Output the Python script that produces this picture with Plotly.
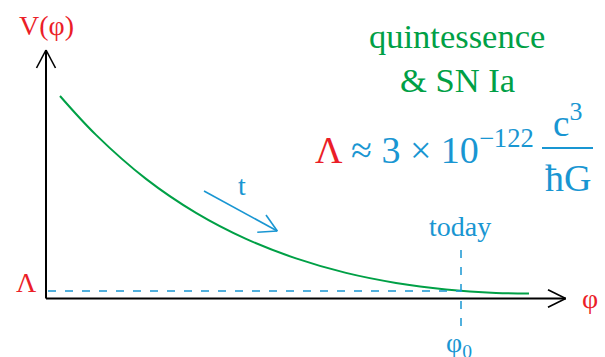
import plotly.graph_objects as go

# Potential V(phi) of the quintessence field (arbitrary units)
phi = [0.14, 0.5, 1.0, 1.5, 2.0, 2.5, 3.0, 3.5, 4.0, 4.5, 4.83]
V = [2.025, 1.636, 1.196, 0.856, 0.596, 0.401, 0.256, 0.156, 0.091, 0.056, 0.049]

lambda_level = 0.075   # present-day vacuum energy
phi_today = 4.15       # field value today

GREEN = "rgb(0,160,70)"
BLUE = "rgb(25,150,210)"
RED = "rgb(235,30,40)"
FONT = "Liberation Serif"

fig = go.Figure()

fig.add_trace(go.Scatter(
    x=phi, y=V, mode="lines", line=dict(color=GREEN, width=2, shape="spline", smoothing=1.0),
    hoverinfo="skip", showlegend=False,
))

shapes = []
black = dict(color="black", width=2)
thin_black = dict(color="black", width=1.6)
# axes with open arrow heads
shapes.append(dict(type="line", x0=0, y0=0, x1=0, y1=2.485, line=black))
shapes.append(dict(type="line", x0=-0.095, y0=2.305, x1=0, y1=2.485, line=thin_black))
shapes.append(dict(type="line", x0=0.095, y0=2.305, x1=0, y1=2.485, line=thin_black))
shapes.append(dict(type="line", x0=0, y0=0, x1=5.197, y1=0, line=black))
shapes.append(dict(type="line", x0=5.02, y0=0.088, x1=5.197, y1=0, line=thin_black))
shapes.append(dict(type="line", x0=5.02, y0=-0.088, x1=5.197, y1=0, line=thin_black))

# Lambda level and today's field value
dash = dict(color=BLUE, width=1.5, dash="8px,9px")
shapes.append(dict(type="line", x0=0.02, y0=lambda_level, x1=phi_today, y1=lambda_level, line=dash))
shapes.append(dict(type="line", x0=phi_today, y0=0.485, x1=phi_today, y1=-0.285, line=dash))

# time arrow
blue_line = dict(color=BLUE, width=1.6)
shapes.append(dict(type="line", x0=1.58, y0=1.075, x1=2.313, y1=0.675, line=blue_line))
shapes.append(dict(type="line", x0=2.20, y0=0.835, x1=2.313, y1=0.675, line=blue_line))
shapes.append(dict(type="line", x0=2.113, y0=0.662, x1=2.313, y1=0.675, line=blue_line))

# fraction bar of c^3 / hbar G
shapes.append(dict(type="line", x0=4.96, y0=1.505, x1=5.47, y1=1.505, line=dict(color=BLUE, width=2)))

fig.update_layout(shapes=shapes)

def label(text, x, y, color, size=30, family=FONT, **kw):
    fig.add_annotation(x=x, y=y, text=text, showarrow=False, xref="x", yref="y",
                       font=dict(family=family, size=size, color=color), **kw)

label("V(φ)", 0.0, 2.735, RED, size=28)
label("quintessence", 4.11, 2.63, GREEN, size=34.5)
label("&amp; SN Ia", 4.11, 2.185, GREEN, size=34.5)
label("<span style='color:" + RED + "'>Λ</span> ≈ 3 × 10<sup>−122</sup>", 4.90, 1.52, BLUE,
      size=38, xanchor="right")
label("c<sup>3</sup>", 5.21, 1.78, BLUE, size=37)
label("ħG", 5.22, 1.205, BLUE, size=38)
label("t", 1.96, 1.13, BLUE, size=28)
label("today", 4.14, 0.725, BLUE, size=28)
label("Λ", -0.2, 0.165, RED, size=28)
label("φ", 5.44, -0.0, RED, size=28)
label("φ<sub>0</sub>", 4.13, -0.46, BLUE, size=28)

fig.update_xaxes(range=[-0.46, 5.59], visible=False)
fig.update_yaxes(range=[-0.585, 2.985], visible=False)
fig.update_layout(
    width=605, height=357, margin=dict(l=0, r=0, t=0, b=0),
    plot_bgcolor="white", paper_bgcolor="white",
)

fig.write_html("out.html")
